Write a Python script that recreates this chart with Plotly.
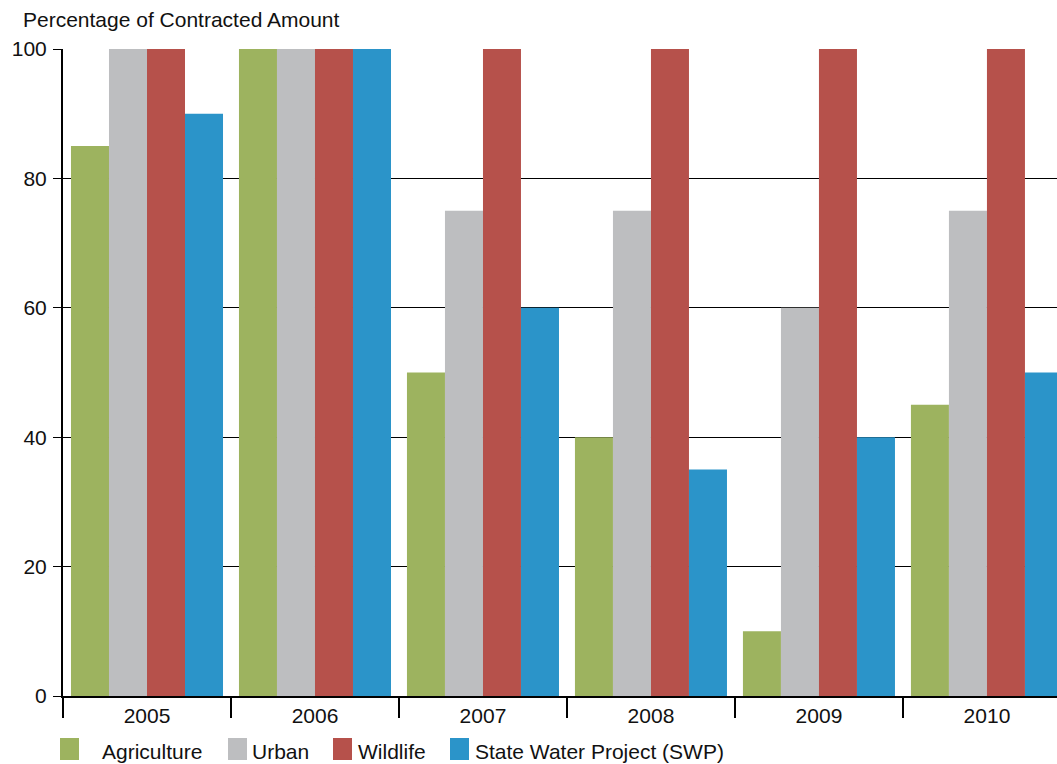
import plotly.graph_objects as go

years = ["2005", "2006", "2007", "2008", "2009", "2010"]
agriculture = [85, 100, 50, 40, 10, 45]
urban = [100, 100, 75, 75, 60, 75]
wildlife = [100, 100, 100, 100, 100, 100]
swp = [90, 100, 60, 35, 40, 50]

series_names = ["Agriculture", "Urban", "Wildlife", "State Water Project (SWP)"]
series_values = [agriculture, urban, wildlife, swp]
colors = ["#9DB35F", "#BDBEC0", "#B6514B", "#2B94C9"]

y_ticks = [0, 20, 40, 60, 80, 100]
y_title = "Percentage of Contracted Amount"

FONT = "Liberation Sans, Arial, sans-serif"
FS = 21
TXT = "#111111"
W, H = 1057, 764
L, R, T, B = 63, 0, 49, 68
PW = W - L - R
PH = H - T - B

def px_x(px):
    return (px - L) / PW

def px_y(py):
    return (H - B - py) / PH

fig = go.Figure()
for name, vals, col in zip(series_names, series_values, colors):
    fig.add_trace(go.Bar(x=years, y=vals, name=name, marker=dict(color=col, line=dict(width=0)),
                         showlegend=False))

# custom legend
legend_swatch_x = [60, 228, 333, 450]
legend_text_x = [100, 250, 356, 473]
for name, col, sx, tx in zip(series_names, colors, legend_swatch_x, legend_text_x):
    fig.add_shape(type="rect", xref="paper", yref="paper",
                  x0=px_x(sx), x1=px_x(sx + 19), y0=px_y(760), y1=px_y(738),
                  fillcolor=col, line=dict(width=0))
    fig.add_annotation(xref="paper", yref="paper", x=px_x(tx), y=px_y(751),
                       xanchor="left", yanchor="middle", showarrow=False,
                       text=name, font=dict(family=FONT, size=FS, color=TXT))

fig.add_annotation(xref="paper", yref="paper", x=px_x(21), y=px_y(20),
                   xanchor="left", yanchor="middle", showarrow=False,
                   text=y_title, font=dict(family=FONT, size=FS, color=TXT))

fig.update_layout(
    width=W, height=H,
    margin=dict(l=L, r=R, t=T, b=B, pad=0),
    paper_bgcolor="white", plot_bgcolor="white",
    barmode="group", bargap=0.095, bargroupgap=0,
    font=dict(family=FONT, size=FS, color=TXT),
    xaxis=dict(type="category", range=[-0.5, 5.417], tickson="boundaries",
               ticks="outside", ticklen=20, tickwidth=2, tickcolor="black",
               showline=True, linecolor="black", linewidth=2,
               showgrid=False, zeroline=False,
               tickfont=dict(family=FONT, size=FS, color=TXT)),
    yaxis=dict(range=[0, 100], tickvals=y_ticks, ticks="outside", ticklen=8,
               tickwidth=1, tickcolor="black", ticklabelstandoff=2,
               showline=True, linecolor="black", linewidth=2,
               showgrid=True, gridcolor="black", gridwidth=1, zeroline=False,
               tickfont=dict(family=FONT, size=FS, color=TXT)),
)

fig.write_html("out.html")
